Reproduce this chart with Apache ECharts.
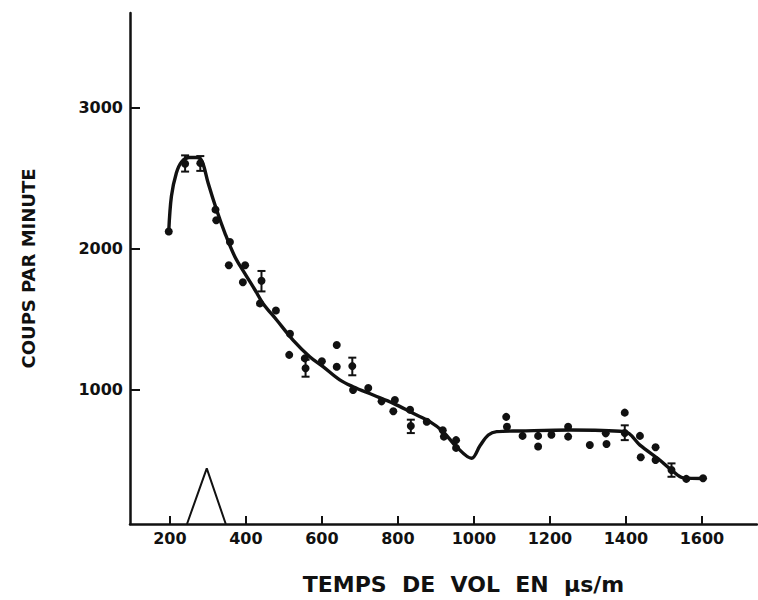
<!DOCTYPE html>
<html>
<head>
<meta charset="utf-8">
<script src="https://cdn.jsdelivr.net/npm/echarts@6/dist/echarts.min.js"></script>
<style>
html, body { margin: 0; background: #fff; }
#main { width: 758px; height: 600px; }
</style>
</head>
<body>
<div id="main"></div>
<script>
var xTicks = [200, 400, 600, 800, 1000, 1200, 1400, 1600];
var yTicks = [1000, 2000, 3000];
var baseLevel = 45;

// measured counts (x = temps de vol, y = coups/minute)
var points = [
  [197, 2120], [320, 2275], [322, 2200], [358, 2045], [355, 1880], [398, 1880],
  [392, 1760], [437, 1610], [479, 1560], [516, 1395], [514, 1245], [555, 1220],
  [600, 1200], [639, 1315], [639, 1160], [682, 995], [722, 1010], [757, 915],
  [792, 925], [788, 845], [832, 855], [876, 770], [918, 710], [921, 665],
  [953, 640], [953, 585], [1085, 805], [1087, 735], [1128, 670], [1169, 670],
  [1169, 595], [1204, 678], [1248, 735], [1248, 665], [1305, 605], [1349, 612],
  [1347, 688], [1397, 835], [1437, 670], [1439, 518], [1478, 589], [1478, 499],
  [1559, 365], [1603, 370]
];

// [x, y, low, high]
var errorBars = [
  [240, 2600, 2545, 2660],
  [280, 2605, 2550, 2655],
  [441, 1770, 1695, 1840],
  [557, 1150, 1090, 1210],
  [680, 1165, 1100, 1225],
  [834, 740, 690, 785],
  [1397, 690, 640, 745],
  [1520, 428, 380, 475]
];

// fitted curve
var curve = [
  [197, 2120], [204, 2370], [217, 2535], [231, 2615], [250, 2645], [272, 2645],
  [285, 2615], [301, 2460], [323, 2272], [345, 2107], [371, 1941], [397, 1823],
  [424, 1705], [445, 1610], [481, 1492], [524, 1350], [568, 1232], [603, 1161],
  [647, 1067], [682, 1019], [735, 960], [788, 901], [840, 830], [884, 771],
  [919, 700], [954, 593], [994, 511], [1016, 600], [1038, 676], [1060, 700],
  [1121, 705], [1253, 712], [1397, 700], [1437, 605], [1489, 499], [1520, 428],
  [1551, 372], [1603, 368]
];

// resolution peak drawn at the baseline
var peak = [[245, baseLevel], [297, 440], [347, baseLevel]];

var ink = '#111';
var font = 'DejaVu Sans';

function plain(v) { return String(v); }

var chart = echarts.init(document.getElementById('main'), null, { renderer: 'svg' });

var option = {
  animation: false,
  backgroundColor: '#fff',
  grid: { left: 130, right: 1, top: 13, bottom: 76 },
  xAxis: {
    type: 'value',
    min: 95,
    max: 1745,
    name: 'TEMPS  DE  VOL  EN  µs/m',
    nameLocation: 'middle',
    nameGap: 49,
    nameTextStyle: { color: ink, fontFamily: font, fontWeight: 'bold', fontSize: 22, padding: [0, 0, 0, 40] },
    axisLine: { onZero: false, lineStyle: { color: ink, width: 2.5 } },
    axisTick: { inside: true, length: 8, customValues: xTicks, lineStyle: { color: ink, width: 2 } },
    axisLabel: { customValues: xTicks, formatter: plain, color: ink, fontFamily: font, fontWeight: 'bold', fontSize: 16, margin: 6 },
    splitLine: { show: false }
  },
  yAxis: {
    type: 'value',
    min: baseLevel,
    max: 3670,
    name: 'COUPS PAR MINUTE',
    nameLocation: 'middle',
    nameGap: 93,
    nameTextStyle: { color: ink, fontFamily: font, fontWeight: 'bold', fontSize: 18 },
    axisLine: { show: true, lineStyle: { color: ink, width: 2.5 } },
    axisTick: { show: true, inside: true, length: 10, customValues: yTicks, lineStyle: { color: ink, width: 2 } },
    axisLabel: { customValues: yTicks, formatter: plain, color: ink, fontFamily: font, fontWeight: 'bold', fontSize: 16, margin: 7 },
    splitLine: { show: false }
  },
  series: [
    {
      name: 'courbe',
      type: 'line',
      data: curve,
      smooth: 0.35,
      symbol: 'none',
      lineStyle: { color: ink, width: 3.4 }
    },
    {
      name: 'pic',
      type: 'line',
      data: peak,
      symbol: 'none',
      lineStyle: { color: ink, width: 2 }
    },
    {
      name: 'points',
      type: 'scatter',
      data: points,
      symbolSize: 8,
      itemStyle: { color: ink, opacity: 1 }
    },
    {
      name: 'erreurs',
      type: 'custom',
      data: errorBars,
      encode: { x: 0, y: [1, 2, 3] },
      renderItem: function (params, api) {
        var x = api.value(0);
        var lo = api.coord([x, api.value(2)]);
        var hi = api.coord([x, api.value(3)]);
        var mid = api.coord([x, api.value(1)]);
        var w = 4;
        var st = { stroke: ink, lineWidth: 2 };
        return {
          type: 'group',
          children: [
            { type: 'line', shape: { x1: lo[0], y1: lo[1], x2: hi[0], y2: hi[1] }, style: st },
            { type: 'line', shape: { x1: lo[0] - w, y1: lo[1], x2: lo[0] + w, y2: lo[1] }, style: st },
            { type: 'line', shape: { x1: hi[0] - w, y1: hi[1], x2: hi[0] + w, y2: hi[1] }, style: st },
            { type: 'circle', shape: { cx: mid[0], cy: mid[1], r: 4 }, style: { fill: ink } }
          ]
        };
      }
    }
  ]
};

chart.setOption(option);
</script>
</body>
</html>
